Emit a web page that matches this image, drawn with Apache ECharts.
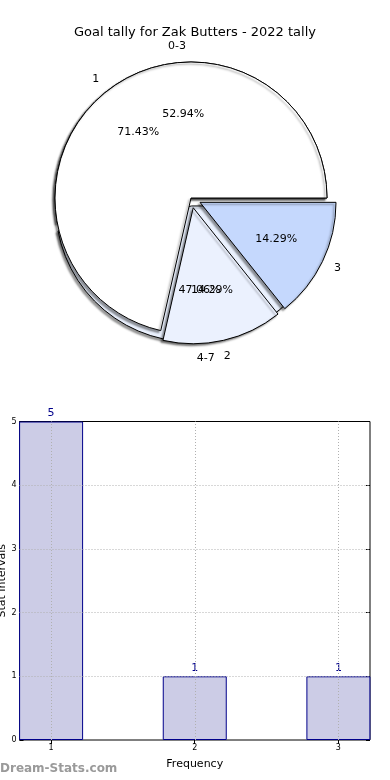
<!DOCTYPE html>
<html>
<head>
<meta charset="utf-8">
<script src="https://cdn.jsdelivr.net/npm/echarts@6/dist/echarts.min.js"></script>
<style>html,body{margin:0;padding:0;background:#fff;}#c{width:390px;height:780px;}</style>
</head>
<body>
<div id="c"></div>
<script>
// ---- data ----
const titleText = 'Goal tally for Zak Butters - 2022 tally';
const pie1Names = ['0-3', '4-7'];
const pie1Values = [9, 8];
const pie2Names = ['1', '2', '3'];
const pie2Values = [5, 1, 1];
const barCategories = [1, 2, 3];
const barValues = [5, 1, 1];
const yTicks = [0, 1, 2, 3, 4, 5];
const xTicks = [1, 2, 3];

// ---- styles ----
const FONT = 'DejaVu Sans';
const CX = 191, CY = 198, R = 136;
const pie1Colors = ['#ffffff', '#eaf1fe'];
const pie1Selected = [false, true];
const pie2Colors = ['#ffffff', '#ebf1fe', '#c5d8fd'];
const pie2Selected = [false, true, true];

function pctFormatter(values) {
  const total = values.reduce((a, b) => a + b, 0);
  return p => (p.value / total * 100).toFixed(2) + '%';
}

function pieData(names, values, colors, selected, visible) {
  return names.map((n, i) => ({
    name: n, value: values[i], selected: selected[i],
    itemStyle: visible ? { color: colors[i] } : { color: 'rgba(0,0,0,0)', borderWidth: 0, shadowBlur: 0, shadowColor: 'rgba(0,0,0,0)' }
  }));
}

function visiblePie(names, values, colors, selected, offset) {
  return {
    type: 'pie', center: [CX, CY], radius: [0, R], startAngle: 0, clockwise: false,
    selectedMode: 'multiple', selectedOffset: offset, silent: true, animation: false,
    avoidLabelOverlap: false,
    label: { show: false }, labelLine: { show: false },
    itemStyle: { borderColor: '#000', borderWidth: 1, shadowBlur: 2, shadowOffsetX: -2, shadowOffsetY: 2, shadowColor: 'rgba(0,0,0,0.4)' },
    emphasis: { disabled: true },
    data: pieData(names, values, colors, selected, true)
  };
}

function labelRing(names, values, selected, offset, r0, r1, fmt) {
  return {
    type: 'pie', center: [CX, CY], radius: [r0, r1], startAngle: 0, clockwise: false,
    selectedMode: 'multiple', selectedOffset: offset, silent: true, animation: false,
    avoidLabelOverlap: false,
    label: { show: true, position: 'inside', formatter: fmt, color: '#000', fontFamily: FONT, fontSize: 11, overflow: 'none' },
    labelLine: { show: false },
    labelLayout: { hideOverlap: false },
    itemStyle: { borderWidth: 0 },
    emphasis: { disabled: true },
    data: pieData(names, values, null, selected, false)
  };
}

const gridLineStyle = { color: '#b0b0b0', type: [1, 2], width: 1 };
const tickStyle = { show: true, inside: true, length: 4, lineStyle: { color: '#000' } };

const option = {
  backgroundColor: '#fff',
  animation: false,
  title: {
    text: titleText, left: 'center', top: 21,
    textStyle: { fontFamily: FONT, fontSize: 13, fontWeight: 'normal', color: '#000' }
  },
  graphic: [{
    type: 'text', left: 0, top: 763,
    style: { text: 'Dream-Stats.com', fill: '#9a9a9a', font: 'bold 12px "DejaVu Sans"' }
  }],
  grid: { left: 19.5, right: 20, top: 421.5, bottom: 40, outerBoundsMode: 'none', containLabel: false, show: true, borderColor: '#000', borderWidth: 1, backgroundColor: 'transparent' },
  xAxis: [{
    type: 'value', min: 0.78, max: 3.22, position: 'bottom',
    name: 'Frequency', nameLocation: 'middle', nameGap: 19, nameMoveOverlap: false,
    nameTextStyle: { fontFamily: FONT, fontSize: 11, color: '#000' },
    axisLine: { show: false },
    axisTick: Object.assign({ customValues: xTicks }, tickStyle),
    axisLabel: { customValues: xTicks, fontFamily: FONT, fontSize: 8, color: '#000', margin: 4 },
    splitLine: { show: false }
  }, {
    type: 'value', min: 0.78, max: 3.22, position: 'top',
    axisLine: { show: false },
    axisTick: Object.assign({ customValues: xTicks }, tickStyle),
    axisLabel: { show: false },
    splitLine: { show: false }
  }],
  yAxis: [{
    type: 'value', min: 0, max: 5, interval: 1, position: 'left',
    name: 'Stat Intervals', nameLocation: 'middle', nameGap: 12, nameRotate: 90, nameMoveOverlap: false,
    nameTextStyle: { fontFamily: FONT, fontSize: 11, color: '#000' },
    axisLine: { show: false },
    axisTick: tickStyle,
    axisLabel: { fontFamily: FONT, fontSize: 8, color: '#000', margin: 3 },
    splitLine: { show: false }
  }, {
    type: 'value', min: 0, max: 5, interval: 1, position: 'right',
    axisLine: { show: false },
    axisTick: tickStyle,
    axisLabel: { show: false },
    splitLine: { show: false }
  }],
  series: [
    visiblePie(pie1Names, pie1Values, pie1Colors, pie1Selected, 8),
    visiblePie(pie2Names, pie2Values, pie2Colors, pie2Selected, 10),
    labelRing(pie1Names, pie1Values, pie1Selected, 8, R * 0.2, R, pctFormatter(pie1Values)),
    labelRing(pie2Names, pie2Values, pie2Selected, 10, R * 0.2, R, pctFormatter(pie2Values)),
    labelRing(pie1Names, pie1Values, pie1Selected, 8, R, R * 1.2, '{b}'),
    labelRing(pie2Names, pie2Values, pie2Selected, 10, R, R * 1.2, '{b}'),
    {
      type: 'bar', xAxisIndex: 0, yAxisIndex: 0,
      data: barCategories.map((c, i) => [c, barValues[i]]),
      barWidth: 64,
      itemStyle: { color: '#ccccE6', borderColor: '#00008b', borderWidth: 1 },
      label: { show: true, position: 'top', distance: 3, color: '#00008b', fontFamily: FONT, fontSize: 11 },
      silent: true,
      markLine: {
        silent: true, symbol: 'none', label: { show: false }, z: 5,
        lineStyle: gridLineStyle,
        data: xTicks.map(v => ({ xAxis: v })).concat(yTicks.slice(1, -1).map(v => ({ yAxis: v })))
      }
    }
  ]
};

const chart = echarts.init(document.getElementById('c'), null, { renderer: 'canvas' });
chart.setOption(option);
</script>
</body>
</html>
